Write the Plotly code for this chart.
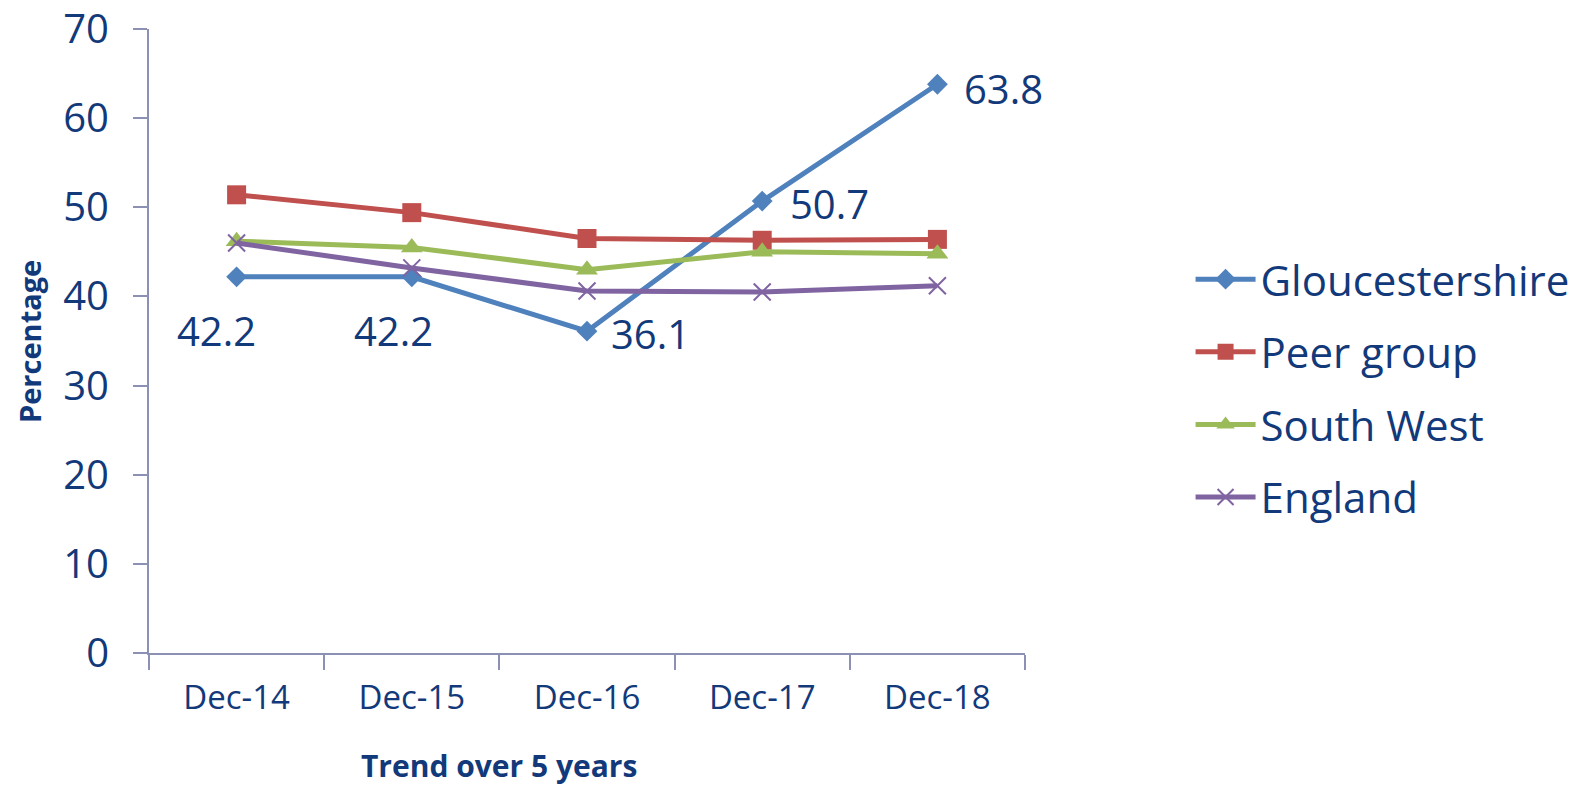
import plotly.graph_objects as go

periods = ['Dec-14', 'Dec-15', 'Dec-16', 'Dec-17', 'Dec-18']

gloucestershire = [42.2, 42.2, 36.1, 50.7, 63.8]
peer_group = [51.4, 49.4, 46.5, 46.3, 46.4]
south_west = [46.2, 45.5, 43.0, 45.0, 44.8]
england = [46.0, 43.2, 40.6, 40.5, 41.2]

TEXT = '#12397A'
AXIS = '#8C90B2'
FONT = 'Open Sans'

fig = go.Figure()

series = [
    ('Gloucestershire', gloucestershire, '#4F81BD', dict(symbol='diamond', size=16)),
    ('Peer group', peer_group, '#C0504D', dict(symbol='square', size=19)),
    ('South West', south_west, '#9BBB59', dict(symbol='triangle-up', size=19)),
    ('England', england, '#8064A2', dict(symbol='x-thin', size=17,
                                         line=dict(width=2, color='#8064A2'))),
]

for name, vals, color, mk in series:
    fig.add_trace(go.Scatter(
        x=periods, y=vals, name=name, legendgroup=name,
        mode='lines+markers',
        line=dict(color=color, width=5),
        marker=dict(color=color, **mk),
    ))

# data labels for Gloucestershire
label_pos = [
    dict(xanchor='center', xshift=-20, yshift=-54),
    dict(xanchor='center', xshift=-18, yshift=-54),
    dict(xanchor='left', xshift=22, yshift=-2),
    dict(xanchor='left', xshift=26, yshift=-2),
    dict(xanchor='left', xshift=25, yshift=-4),
]
for p, v, pos in zip(periods, gloucestershire, label_pos):
    fig.add_annotation(x=p, y=v, xref='x', yref='y', text=f'{v:.1f}',
                       showarrow=False, yanchor='middle',
                       font=dict(family=FONT, size=40, color=TEXT), **pos)

# axis titles
fig.add_annotation(text='<b>Percentage</b>', xref='paper', yref='paper',
                   x=-0.137, y=0.5, textangle=-90, showarrow=False,
                   xanchor='center', yanchor='middle',
                   font=dict(family=FONT, size=29, color=TEXT))
fig.add_annotation(text='<b>Trend over 5 years</b>', xref='paper', yref='paper',
                   x=0.40, y=-0.18, showarrow=False,
                   xanchor='center', yanchor='middle',
                   font=dict(family=FONT, size=30, color=TEXT))

fig.update_xaxes(
    type='category', range=[-0.5, 4.5], automargin=False,
    showline=True, linecolor=AXIS, linewidth=2,
    ticks='outside', tickson='boundaries', ticklen=15, tickcolor=AXIS, tickwidth=2,
    showgrid=False, zeroline=False,
    tickfont=dict(family=FONT, size=33, color=TEXT),
    ticklabelstandoff=14,
)
fig.update_yaxes(
    range=[0, 70], dtick=10, automargin=False,
    showline=True, linecolor=AXIS, linewidth=2,
    ticks='outside', ticklen=14, tickcolor=AXIS, tickwidth=2,
    showgrid=False, zeroline=False,
    tickfont=dict(family=FONT, size=40, color=TEXT),
    ticklabelstandoff=16, ticklabeloverflow='allow',
)

fig.update_layout(
    width=1579, height=786,
    margin=dict(l=149, r=554, t=29, b=133, autoexpand=False),
    plot_bgcolor='white', paper_bgcolor='white',
    showlegend=True,
    legend=dict(
        x=1.189, y=0.424, xanchor='left', yanchor='middle',
        font=dict(family=FONT, size=42, color=TEXT),
        itemwidth=60, tracegroupgap=15, traceorder='grouped',
        bgcolor='rgba(0,0,0,0)',
    ),
)

# drop the default body margin so the figure fills the window exactly
fig.write_html('out.html', config={'displayModeBar': False},
               post_script="document.body.style.margin='0';")
